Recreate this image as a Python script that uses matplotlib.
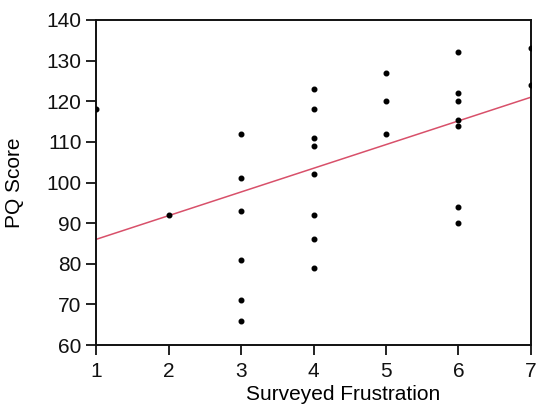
import numpy as np
import matplotlib
matplotlib.use("Agg")
import matplotlib.pyplot as plt

plt.rcParams['font.family'] = ['Liberation Sans', 'DejaVu Sans']

# Surveyed frustration level and PQ score for each respondent
frustration = [1, 2,
               3, 3, 3, 3, 3, 3,
               4, 4, 4, 4, 4, 4, 4, 4,
               5, 5, 5,
               6, 6, 6, 6, 6, 6, 6,
               7, 7]
pq_score = [118, 92,
            112, 101, 93, 81, 71, 66,
            123, 118, 111, 109, 102, 92, 86, 79,
            127, 120, 112,
            132, 122, 120, 115.5, 114, 94, 90,
            133, 124]

# Fitted trend line end points
fit_x = [1, 7]
fit_y = [86, 121]

x_ticks = [1, 2, 3, 4, 5, 6, 7]
y_ticks = [60, 70, 80, 90, 100, 110, 120, 130, 140]

fig = plt.figure(figsize=(5.37, 4.04), dpi=100)
ax = fig.add_axes([0.1788, 0.146, 0.81, 0.8045])

ax.plot(fit_x, fit_y, color='#d8506a', lw=1.1, zorder=2)
ax.plot(frustration, pq_score, linestyle='none', marker='o',
        markersize=3.3, color='black', zorder=3)

ax.set_xlim(1, 7)
ax.set_ylim(60, 140)
ax.set_xticks(x_ticks)
ax.set_yticks(y_ticks)

for s in ax.spines.values():
    s.set_linewidth(1.4)
    s.set_color('#111111')

ax.tick_params(direction='out', length=7.5, width=1.3, labelsize=15,
               colors='#111111')
ax.tick_params(axis='x', pad=5)
ax.tick_params(axis='y', pad=3)

ax.set_xlabel('Surveyed Frustration', fontsize=15)
ax.set_ylabel('PQ Score', fontsize=15)
ax.xaxis.set_label_coords(0.568, -0.122, transform=ax.transAxes)
ax.xaxis.label.set_va('top')
ax.yaxis.set_label_coords(-0.165, 0.5)

fig.savefig('out.png', dpi=100)
